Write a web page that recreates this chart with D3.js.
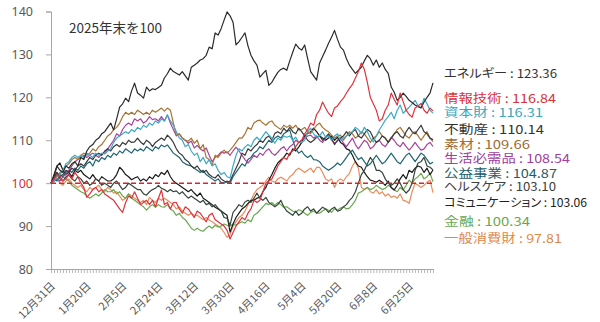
<!DOCTYPE html>
<html><head><meta charset="utf-8">
<script src="https://cdn.jsdelivr.net/npm/d3@7"></script>
<style>
html,body{margin:0;padding:0;background:#fff;}
svg{display:block;}
</style>
</head><body>
<svg id="chart" width="600" height="322"></svg>
<script>
// ---- data ----
const xTickLabels = ["12月31日","1月20日","2月5日","2月24日","3月12日","3月30日","4月16日","5月4日","5月20日","6月8日","6月25日"];
const xTickEvery = 12;
const yTicks = [80, 90, 100, 110, 120, 130, 140];
const baseValue = 100;
const noteText = "2025年末を100";

const seriesNames = ["エネルギー","情報技術","資本財","不動産","素材","生活必需品","公益事業","ヘルスケア","コミュニケーション","金融","一般消費財"];
const lastValues = ["123.36","116.84","116.31","110.14","109.66","108.54","104.87","103.10","103.06","100.34","97.81"];

const energy = [100,101.5,104,103,102.5,104,103.5,104.5,105,104,
106,105.5,107.5,108.5,109,110,110.5,111.5,112,113,
114,112.4,115,117.7,118.5,119.8,119,121.5,123.3,121,
120.5,119.8,122.4,121.5,122,121.8,122.3,122.8,124.5,125.5,
126.8,126,125.6,125.2,126,125,124,127,127.5,128,
128.7,129,129.8,131.7,131.3,135,134.5,136,138,139.9,
139,137.5,132.2,133,134,135,132,129.8,128.5,127.5,
124.7,125.5,126.3,122.8,123.5,124.7,125.8,126.5,126.8,126.3,
128.5,130.5,132.4,131.5,131,132.2,129,126,125,124,
128,129.5,131,132.6,134,135.6,133.5,131.7,131,129,
127.5,126.5,125.6,126.3,127,128.5,129.8,129,127.5,128.7,
127,128,126.5,125.6,122.4,121.2,119.3,120,121,120.2,
119.3,118.8,118.2,117.8,117.5,118.9,120,121,123.36];

const infoTech = [100,101,102,101.5,100.5,101,102,101,102.5,101.5,
100,99,96.7,97.5,98.5,99,98,98.5,97.5,97,
96.5,96,95,94,93.2,95.5,97,96.5,98,96.5,
95,95.5,96,95,96,94.5,96.5,98.4,95,95.5,
94,95.5,95.5,94,93,94.5,94,93,92,93.5,
93,92,91,92.5,93,91.5,91,90.5,90,89,
87,88.5,90,91,92,91.5,93,94,96,95.5,
96,98,100,100.5,101,102.5,104,105,106,105.5,
107,107.5,108.5,109.5,110,111.5,112.5,114,113.5,116,
117,118.9,117.5,116.3,115.5,117.5,118,119,119.8,121,
122.1,123,124.5,126,128,126.5,123.5,120,118.5,117,
114.5,115,117,118.2,121,119.5,118.2,121,119,117,
116,115.4,117.5,118,118.6,117,116.3,117.5,116.84];

const capitalGoods = [100,100.5,101.5,102,103,104.5,105,106,106.5,106,
106.5,106,107,106.5,106,107,106.5,107,106.8,107.5,
108,109.5,110.5,111,111.5,112,111.6,112.5,112,113,
112.5,113.5,113,114,113.5,114.5,114,115,114.5,115.9,
114.5,113.5,112,110.5,110,108.5,109,107.5,106.5,107,
105,106,104.5,105.5,104,104.5,103,102,102.5,101.5,
101.2,104,106.5,108,107.5,108.4,109,108.5,110,110.7,
110,111,112,111.2,110.5,109.3,110.5,110,111,110.7,
111,110,110.7,109.5,109.5,110,112,112.8,111.5,110.7,
111,112,110.7,111,110,111,111.5,110,110.5,111,
111.5,112,113,112.5,111.5,113,112,110.5,109.6,111,
112.4,113.5,114.7,115.5,116.5,115,117,118.2,116.3,117,
117.7,118.5,119.3,118,117.7,119.8,118.5,117,116.31];

const realEstate = [100,101,102.5,101.5,102,103,102.5,103.5,103,104,
104.5,104,105,106,105.5,106.5,107,106.5,107.5,108,
107.5,108.5,109,108.5,109.5,109,110,109.5,109.6,110.5,
109.6,109,110,109.5,108.5,109.5,110,110.5,110,111.2,
110.5,109.5,108,107,106.5,105.5,105,104,103.5,104,
103,102.5,103,102,101.5,101.2,102,101,100.5,100.2,
100.5,102,103.5,105,107,106.5,108,107.5,108.4,109,
110,109.5,110.5,111,110,111.6,112,111.5,112.8,112,
113,112,111.5,112.8,112,111,110,109.5,110,110.7,
111,110,110.7,111.5,110.5,109,110,110.5,111,112,
111,112,112.5,111,110.5,111.5,112.5,112,110.5,109.5,
110,111,110.5,109.5,110.5,111.5,112,111,110.5,112,
113,112,111.5,112.5,113.5,112,111.5,110.5,110.14];

const materials = [100,101,101.5,102.5,103,104,104.5,105.5,106,105.5,
106.5,107,106.5,107,108,107.5,108.5,109,110,111,
111.5,112.5,113,114,115.5,116.5,116,116.5,116,117,
116.5,116,116.5,116,117,116.5,117,117.5,116.8,117.5,
117,114,111.2,111.5,110.5,110,109.8,110.5,109.3,110,
108,109,106,105.5,104.2,106.5,106,107,107.7,107,
107.7,108.5,109.5,110.5,110.5,111.5,113,112.5,114,114.5,
114.7,114,113.5,114.2,114.5,113.5,113,112.5,113.5,113,
113.5,112.8,113.5,112.4,112.5,113,112,111.6,112.5,113.5,
114,113,112.4,112,111.2,110.5,111,111.2,110,111,
112,111.5,110.5,111,112,111.5,110.5,109.5,110.5,111,
112,111,110.5,109.5,110.5,111.5,112.5,113,112,111,
110.5,111.5,112,111,110,111,112,110.5,109.66];

const staples = [100,100.5,101,100.5,101.5,102,103,104,105,105.5,
106,106.5,106,106.5,107,106.5,106,106.8,107,108,
109,110,111.5,111,112.5,113.5,114,113.5,115,114.5,
115,114,114.5,115.5,114.8,115,114.5,115.5,114.5,115.9,
114,112.5,111,111.5,110.5,110,109.3,109.8,108.2,108.8,
108,107.5,108.2,106.5,105,106,106.5,107.3,107,107.3,
106.5,107.5,108.4,107.5,106.5,105.5,104.7,105.5,106.5,106,
107,106.5,107.5,108,107,106.5,107.2,108,108.5,107.5,
108.5,109,110,109.5,110,110.5,111,111.2,110.5,111,
110,109.5,110.5,111.2,110,109.3,109.8,110.5,109.3,108.5,
109.5,110.5,109,108,109,110,109.5,108,108.5,109.5,
110,109,108.5,109.5,110.7,110,109,108.5,109.5,108.5,
107.7,108.5,109.5,108.5,107.7,108,109,109.5,108.54];

const utilities = [100,101,100.5,102,101.5,102.5,103,102.5,103.5,103,
104,103.5,104.5,105,104,105.5,105,106,105.5,106.5,
106,107,106.5,107.5,107,108,107.5,107,108,107.5,
108,107.5,108.5,108,107.5,108.5,108,108.9,108.5,108.9,
108,107,106.5,106,105,104.5,104.2,104,103.5,103,
102.5,103,102,101.5,101,100.5,101,100.2,100,100.5,
100,101.5,102.5,103.5,104.5,104,105.5,106,107,107.5,
108.5,108,109,110,109.5,110.5,111,110.5,111.5,112,
112.4,110,108,107,107.5,106.5,106,106.5,105.5,105.4,
105,104,103.5,103,103.5,104,104.7,104.2,105,106,
107,107.7,106.5,105.5,106,105,104,104.5,105.5,106.5,
105.5,104.5,105,106,107,106,105,104.5,105.5,106.5,
107,106,105,106,107,106.5,105.5,104.5,104.87];

const healthcare = [100,101.5,102.5,101,100.5,101.5,102,101,100.5,101.5,
101,100,100.5,99.5,100,101,100.5,99.5,100,99.5,
99,100,100.5,99.5,98.5,99,100,99.5,99,98.5,
98.5,97.5,97.2,98,98.5,98.8,99.5,98.8,98.5,98,
98.5,98,98.2,97.5,98,97.2,96.5,97,96.5,96,
95.5,96,95,95.3,94.5,95,94.2,93.5,92,91.8,
90.2,93.2,94,95,94.5,95.6,96,95.5,96.5,97.7,
96.5,96,96.7,95.5,95,94.5,95,96,94.5,93.5,
93,92.5,93.5,92.5,93,94,94.5,93.5,94,93,
93.7,94.4,94,93.2,94,94.4,93.5,93.7,94.5,95,
96,96.7,98,100,102,103,104.5,106,105,103,
103,102.5,101,100,99.5,100,101,100,98.5,97.7,
98.4,100,103,104.7,105,106,104,103.7,103.1];

const communication = [100,102,104,104.7,103,102,102.5,101.5,103,102.5,
103,102,101.5,101,102,101,100.5,101.5,101,100.5,
100.5,101,102,103.7,103,102,101.5,100.8,101.2,101.5,
100.5,101,100.5,101.5,101,102,101.5,102.5,102,103,
101.5,100.5,100,99.5,99,98.5,98,98.5,97.7,97,
97.7,96.5,96,95.5,95,94.4,94,93.5,93,92.5,
88.6,90.5,92,93,94,94.5,95.3,96,96,96.5,
96.7,98,99,100.7,102,103.5,104.7,105.4,106,107,
106.5,108,107.5,108.4,109.5,111,111.6,112,112.8,112,
111,110.5,110,110.5,111,110,110.7,109.5,109,108,
107.7,106.5,105,104,103.7,102.5,101.5,100.7,100.5,100.2,
100.7,100.2,99.5,100.5,99,98.4,99.5,101,102,101,
103,102.5,103.5,104,103.7,102.5,103.5,102,103.06];

const financials = [100,100.5,101,100.5,101.5,101,100.5,99.5,99,98.5,
98,97.7,97,96.5,97,97.5,97,97.7,98.5,98,
98,98.5,97.5,98,97,96.5,97.5,96.5,96,95.5,
95,94.5,93.7,94.5,95,94.4,95,94.5,94.4,95,
94,93.5,92.5,93,92,91.5,90.5,89.5,89,89.5,
89,88.8,89.5,90,89.5,90.2,89.8,90,90.5,90.2,
90,90.5,90.2,90.7,91,90.7,91.5,91,92.5,93,
93.7,94.5,95.3,95,95.5,94.8,95.5,95,94.4,94.5,
94,93.5,93.2,93.8,93.5,93,92.5,93.2,93.5,93,
93,93.5,94,93.7,93.2,94,93.7,94.2,94.5,94,
94.2,95,96,97.7,98,98.5,99,98.5,98.8,99.5,
99,98.5,98.8,99.5,99,98.4,98,99,98.4,99.5,
100.7,100,101,101.5,102.3,101,101.5,102.3,100.34];

const discretionary = [100,100.5,101,100,99.5,100.5,101,100,99.5,99,
99.5,98.5,98,99,98.5,99,99.5,98.5,98,99,
98.5,97.7,98,97,96,96.5,97.5,97,96.5,96,
95.5,96,95,96.7,96,95.5,96.5,96,96.5,96,
95.5,95,94,94.5,93.5,93,92.5,93,92.5,92.5,
92,91.5,92,91.4,91,90.5,90,89.5,88.5,87.4,
88,90,91,92,92.5,93.5,94.9,96,97.5,98.5,
99,99.5,100.5,101.4,100.5,100.2,101,101.4,101,100.5,
101.5,102,103,103.5,103,102.5,103,103.5,102.5,103.7,
103.7,102.5,101,100.5,101,99,100.5,101,100.5,101.5,
102.3,104,105,103.5,99,98.5,99,98,97.7,98.5,
97.5,98,97,97.5,96.7,97,96.5,97.5,96,95.8,
95.3,98,100,99.5,99,99.5,100.2,100.7,97.81];

// ---- styles / layout ----
const seriesData = [energy, infoTech, capitalGoods, realEstate, materials, staples, utilities, healthcare, communication, financials, discretionary];
const lineColors = ["#2b2b2b","#e0323c","#3fa9c5","#3a3a3a","#a67434","#a8449e","#1f6670","#34473a","#1a1a1a","#6aa84f","#eb8c5a"];
const labelColors = ["#333333","#d9323c","#3aa6c0","#333333","#a06a30","#a040a0","#1f5f6a","#404040","#222222","#6aa84f","#e0884a"];
const labelY = [74, 99, 113, 130, 145, 159, 174, 187, 203, 222, 239];
const labelWidths = [113, 112, 99, 100, 86, 126, 113, 112, 143, 86, 118];
const drawOrder = [10, 9, 8, 7, 6, 5, 4, 3, 2, 0, 1];

const svg = d3.select("#chart");
const plotLeft = 51, plotRight = 433, plotTop = 11.5, plotBottom = 269;
const nPts = energy.length;

const x = d3.scaleLinear().domain([0, nPts - 1]).range([plotLeft, plotRight]);
const y = d3.scaleLinear().domain([80, 140]).range([plotBottom, plotTop]);

const axisColor = "#a6a6a6";
const textColor = "#595959";

// y axis
const yAxis = svg.append("g").attr("transform", `translate(${plotLeft},0)`)
  .call(d3.axisLeft(y).tickValues(yTicks).tickSize(5).tickPadding(13).tickFormat(d3.format("d")));
yAxis.select(".domain").attr("stroke", axisColor);
yAxis.selectAll(".tick line").attr("stroke", axisColor);
yAxis.selectAll(".tick text")
  .attr("fill", d => d === baseValue ? "#d0343c" : textColor)
  .style("font-family", "'Noto Sans', sans-serif")
  .style("font-size", "12.5px");

// x axis with daily ticks
const dayIdx = d3.range(nPts);
const xAxis = svg.append("g").attr("transform", `translate(0,${plotBottom})`)
  .call(d3.axisBottom(x).tickValues(dayIdx).tickSize(4).tickSizeOuter(0).tickFormat(""));
xAxis.select(".domain").attr("stroke", axisColor);
xAxis.selectAll(".tick line").attr("stroke", axisColor).attr("stroke-width", 0.8);

// x tick labels (rotated)
svg.append("g").selectAll("text")
  .data(xTickLabels)
  .join("text")
  .attr("transform", (d, k) => `translate(${x(k * xTickEvery) + 2},${plotBottom + 15}) rotate(-45)`)
  .attr("text-anchor", "end")
  .attr("dy", "0.35em")
  .attr("fill", textColor)
  .style("font-family", "'Noto Sans CJK JP', sans-serif")
  .style("font-size", "11px")
  .text(d => d);

// lines
const line = d3.line().x((d, i) => x(i)).y(d => y(d));
svg.append("g").selectAll("path")
  .data(drawOrder)
  .join("path")
  .attr("d", k => line(seriesData[k]))
  .attr("fill", "none")
  .attr("stroke", k => lineColors[k])
  .attr("stroke-width", 1.2)
  .attr("stroke-linejoin", "round");

// base line at 100
svg.append("line")
  .attr("x1", plotLeft).attr("x2", plotRight)
  .attr("y1", y(baseValue)).attr("y2", y(baseValue))
  .attr("stroke", "#e0202a").attr("stroke-width", 1.5)
  .attr("stroke-dasharray", "5,3");

// note
svg.append("text")
  .attr("x", 69).attr("y", 28).attr("dy", "0.35em")
  .attr("fill", "#333")
  .style("font-family", "'Noto Sans CJK JP', sans-serif")
  .style("font-size", "13.5px")
  .text(noteText);

// end labels
svg.append("g").selectAll("text")
  .data(seriesNames)
  .join("text")
  .attr("x", 444)
  .attr("y", (d, k) => labelY[k])
  .attr("dy", "0.35em")
  .attr("fill", (d, k) => labelColors[k])
  .attr("textLength", (d, k) => labelWidths[k])
  .attr("lengthAdjust", "spacingAndGlyphs")
  .style("font-family", "'Noto Sans CJK JP', sans-serif")
  .style("font-feature-settings", "'palt' 1")
  .style("font-size", "12px")
  .text((d, k) => `${d} : ${lastValues[k]}`);
</script>
</body></html>
